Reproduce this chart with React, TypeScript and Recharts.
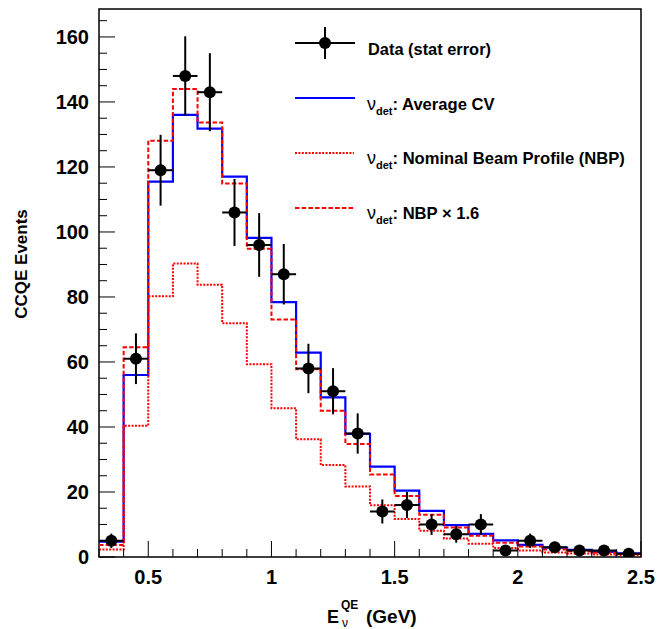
import { ComposedChart, Line, Scatter, ErrorBar, XAxis, YAxis, ReferenceArea } from "recharts";

// bin edges in GeV (22 bins of 0.1)
const binEdges = [
  0.3, 0.4, 0.5, 0.6, 0.7, 0.8, 0.9, 1.0, 1.1, 1.2, 1.3, 1.4, 1.5, 1.6, 1.7, 1.8, 1.9, 2.0, 2.1, 2.2,
  2.3, 2.4, 2.5,
];
const averageCv = [
  4.7, 56, 115.5, 136, 131.8, 117, 98.2, 78.4, 62.9, 49.1, 37.9, 27.8, 20.4, 14.2, 9.8, 7.1, 5.1, 3.7,
  2.9, 2.2, 1.6, 1.1,
];
const nominalBeam = [
  2.3, 40.4, 80.2, 90.3, 83.8, 71.9, 59.3, 45.8, 36.2, 28.3, 21.7, 15.9, 11.7, 8.1, 5.7, 4.1, 2.8, 2.0,
  1.4, 1.1, 0.8, 0.6,
];
const nbpScaled = [
  3.7, 64.5, 128.1, 144, 133.7, 114.9, 94.8, 73.1, 57.8, 45, 34.8, 25.4, 18.8, 13, 9.1, 6.5, 4.4, 3.2,
  2.3, 1.8, 1.3, 0.9,
];

const dataCenters = [
  0.35, 0.45, 0.55, 0.65, 0.75, 0.85, 0.95, 1.05, 1.15, 1.25, 1.35, 1.45, 1.55, 1.65, 1.75, 1.85, 1.95,
  2.05, 2.15, 2.25, 2.35, 2.45,
];
const dataCounts = [5, 61, 119, 148, 143, 106, 96, 87, 58, 51, 38, 14, 16, 10, 7, 10, 2, 5, 3, 2, 2, 1];
const dataErrors = [
  2.2, 7.8, 10.9, 12.2, 12.0, 10.3, 9.8, 9.3, 7.6, 7.1, 6.2, 3.7, 4.0, 3.2, 2.6, 3.2, 1.4, 2.2, 1.7, 1.4,
  1.4, 1.0,
];
const halfBin = 0.05;

const xTicks = [
  0.3, 0.4, 0.5, 0.6, 0.7, 0.8, 0.9, 1, 1.1, 1.2, 1.3, 1.4, 1.5, 1.6, 1.7, 1.8, 1.9, 2, 2.1, 2.2, 2.3,
  2.4, 2.5,
];
const xLabelled = [0.5, 1, 1.5, 2, 2.5];
const yTicks = [
  0, 5, 10, 15, 20, 25, 30, 35, 40, 45, 50, 55, 60, 65, 70, 75, 80, 85, 90, 95, 100, 105, 110, 115, 120,
  125, 130, 135, 140, 145, 150, 155, 160, 165,
];
const yLabelled = [0, 20, 40, 60, 80, 100, 120, 140, 160];
const Y_MAX = 168.6;

const W = 667;
const H = 629;
const PLOT_LEFT = 99;
const PLOT_BOTTOM = 557;
const FONT = "'Liberation Sans', Arial, Helvetica, sans-serif";

const histRows = binEdges.map((edge, i) => {
  const k = Math.min(i, averageCv.length - 1);
  return { x: edge, cv: averageCv[k], nbp: nominalBeam[k], nbp16: nbpScaled[k] };
});

const points = dataCenters.map((c, i) => ({
  x: c,
  count: dataCounts[i],
  ey: dataErrors[i],
  ex: halfBin,
}));

function YTick(props: any) {
  const { y, payload } = props;
  const v = Number(payload.value);
  const major = yLabelled.includes(v);
  return (
    <g>
      <line x1={PLOT_LEFT} x2={PLOT_LEFT + (major ? 16 : 8)} y1={y} y2={y} stroke="#000" strokeWidth={1} />
      {major ? (
        <text x={PLOT_LEFT - 10} y={y} dy="0.36em" textAnchor="end" fontFamily={FONT} fontWeight={700} fontSize={20} fill="#000">
          {v}
        </text>
      ) : null}
    </g>
  );
}

function XTick(props: any) {
  const { x, payload } = props;
  const v = Number(payload.value);
  const major = xLabelled.some((m) => Math.abs(m - v) < 1e-6);
  return (
    <g>
      <line x1={x} x2={x} y1={PLOT_BOTTOM} y2={PLOT_BOTTOM - (major ? 16 : 8)} stroke="#000" strokeWidth={1} />
      {major ? (
        <text x={x} y={584} textAnchor="middle" fontFamily={FONT} fontWeight={700} fontSize={20} fill="#000">
          {String(v)}
        </text>
      ) : null}
    </g>
  );
}

function Marker(props: any) {
  return <circle cx={props.cx} cy={props.cy} r={6} fill="#000" />;
}

function Nu({ x, base, rest }: { x: number; base: number; rest: string }) {
  return (
    <text x={x} y={base} fontFamily={FONT} fill="#000">
      <tspan fontSize={18} fontWeight={400}>ν</tspan>
      <tspan fontSize={11} fontWeight={700} dy={5}>det</tspan>
      <tspan fontSize={16.6} fontWeight={700} dy={-5}>{rest}</tspan>
    </text>
  );
}

function Overlay() {
  return (
    <svg width={W} height={H} style={{ position: "absolute", left: 0, top: 0, pointerEvents: "none" }}>
      {/* legend */}
      <line x1={295} x2={355} y1={43} y2={43} stroke="#000" strokeWidth={2} />
      <line x1={325} x2={325} y1={27} y2={59} stroke="#000" strokeWidth={2} />
      <circle cx={325} cy={43} r={6} fill="#000" />
      <text x={368} y={55} fontFamily={FONT} fontWeight={700} fontSize={16.4} fill="#000">
        Data (stat error)
      </text>

      <line x1={295} x2={355} y1={98} y2={98} stroke="#0000ff" strokeWidth={2} />
      <Nu x={367} base={110} rest=": Average CV" />

      <line x1={295} x2={354} y1={153} y2={153} stroke="#ff0000" strokeWidth={2} strokeDasharray="2 1.4" />
      <Nu x={367} base={164} rest=": Nominal Beam Profile (NBP)" />

      <line x1={295} x2={355} y1={208} y2={208} stroke="#ff0000" strokeWidth={2} strokeDasharray="4.5 2.2" />
      <Nu x={367} base={219} rest=": NBP × 1.6" />

      {/* axis titles */}
      <text
        x={27}
        y={264}
        transform="rotate(-90 27 264)"
        textAnchor="middle"
        fontFamily={FONT}
        fontWeight={700}
        fontSize={17}
        fill="#000"
      >
        CCQE Events
      </text>
      <text x={327} y={623} fontFamily={FONT} fontWeight={700} fontSize={18} fill="#000">
        E
      </text>
      <text x={341} y={609} fontFamily={FONT} fontWeight={700} fontSize={12} fill="#000">
        QE
      </text>
      <text x={342} y={627} fontFamily={FONT} fontWeight={400} fontSize={12} fill="#000">
        ν
      </text>
      <text x={366} y={623} fontFamily={FONT} fontWeight={700} fontSize={19} fill="#000">
        (GeV)
      </text>
    </svg>
  );
}

export default function App() {
  return (
    <div style={{ position: "absolute", left: 0, top: 0, width: W, height: H, background: "#fff" }}>
      <ComposedChart
        width={W}
        height={H}
        data={histRows}
        margin={{ top: 9, right: W - 641, left: 0, bottom: 0 }}
      >
        <XAxis
          dataKey="x"
          type="number"
          domain={[0.3, 2.5]}
          allowDataOverflow
          ticks={xTicks}
          interval={0}
          height={H - PLOT_BOTTOM}
          tickLine={false}
          axisLine={false}
          tick={<XTick />}
        />
        <YAxis
          type="number"
          domain={[0, Y_MAX]}
          allowDataOverflow
          ticks={yTicks}
          interval={0}
          width={PLOT_LEFT}
          tickLine={false}
          axisLine={false}
          tick={<YTick />}
        />
        <Line dataKey="cv" type="stepAfter" stroke="#0000ff" strokeWidth={2.2} dot={false} activeDot={false} isAnimationActive={false} />
        <Line
          dataKey="nbp16"
          type="stepAfter"
          stroke="#ff0000"
          strokeWidth={2}
          strokeDasharray="4.5 2.2"
          dot={false}
          activeDot={false}
          isAnimationActive={false}
        />
        <Line
          dataKey="nbp"
          type="stepAfter"
          stroke="#ff0000"
          strokeWidth={2}
          strokeDasharray="2 1.4"
          dot={false}
          activeDot={false}
          isAnimationActive={false}
        />
        <Scatter data={points} dataKey="count" shape={<Marker />} isAnimationActive={false}>
          <ErrorBar dataKey="ey" direction="y" width={0} stroke="#000" strokeWidth={2} />
          <ErrorBar dataKey="ex" direction="x" width={0} stroke="#000" strokeWidth={2} />
        </Scatter>
        <ReferenceArea x1={0.3} x2={2.5} y1={0} y2={Y_MAX} fill="none" stroke="#000" strokeWidth={1.5} ifOverflow="visible" />
      </ComposedChart>
      <Overlay />
    </div>
  );
}
